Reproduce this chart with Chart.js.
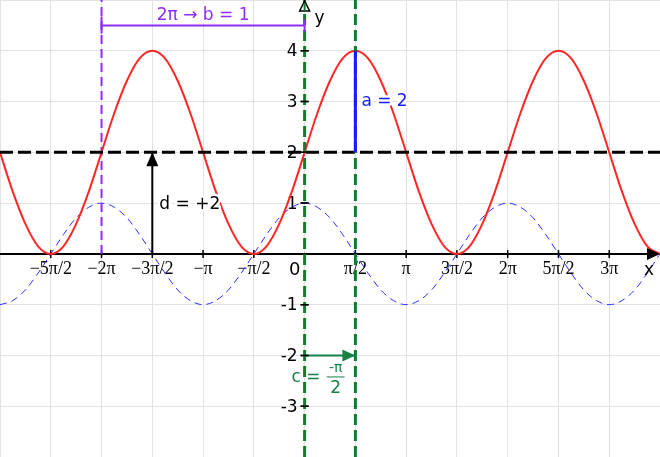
<!DOCTYPE html>
<html>
<head>
<meta charset="utf-8">
<script src="https://cdn.jsdelivr.net/npm/chart.js@4/dist/chart.umd.min.js"></script>
<style>
  html, body { margin: 0; padding: 0; background: #fff; }
  #wrap { width: 660px; height: 457px; position: relative; }
</style>
</head>
<body>
<div id="wrap"><canvas id="c"></canvas></div>
<script>
// x in units of π
const xValues = [-3, -2.875, -2.75, -2.625, -2.5, -2.375, -2.25, -2.125,
  -2, -1.875, -1.75, -1.625, -1.5, -1.375, -1.25, -1.125,
  -1, -0.875, -0.75, -0.625, -0.5, -0.375, -0.25, -0.125,
  0, 0.125, 0.25, 0.375, 0.5, 0.625, 0.75, 0.875,
  1, 1.125, 1.25, 1.375, 1.5, 1.625, 1.75, 1.875,
  2, 2.125, 2.25, 2.375, 2.5, 2.625, 2.75, 2.875,
  3, 3.125, 3.25, 3.375, 3.5];
const redValues = [2, 1.23, 0.59, 0.15, 0, 0.15, 0.59, 1.23,
  2, 2.77, 3.41, 3.85, 4, 3.85, 3.41, 2.77,
  2, 1.23, 0.59, 0.15, 0, 0.15, 0.59, 1.23,
  2, 2.77, 3.41, 3.85, 4, 3.85, 3.41, 2.77,
  2, 1.23, 0.59, 0.15, 0, 0.15, 0.59, 1.23,
  2, 2.77, 3.41, 3.85, 4, 3.85, 3.41, 2.77,
  2, 1.23, 0.59, 0.15, 0];
const blueValues = [-1, -0.92, -0.71, -0.38, 0, 0.38, 0.71, 0.92,
  1, 0.92, 0.71, 0.38, 0, -0.38, -0.71, -0.92,
  -1, -0.92, -0.71, -0.38, 0, 0.38, 0.71, 0.92,
  1, 0.92, 0.71, 0.38, 0, -0.38, -0.71, -0.92,
  -1, -0.92, -0.71, -0.38, 0, 0.38, 0.71, 0.92,
  1, 0.92, 0.71, 0.38, 0, -0.38, -0.71, -0.92,
  -1, -0.92, -0.71, -0.38, 0];

const xGridValues = [-3, -2.5, -2, -1.5, -1, -0.5, 0, 0.5, 1, 1.5, 2, 2.5, 3, 3.5];
const xTickValues = [-2.5, -2, -1.5, -1, -0.5, 0.5, 1, 1.5, 2, 2.5, 3];
const xTickLabels = ['\u22125\u03c0/2', '\u22122\u03c0', '\u22123\u03c0/2', '\u2212\u03c0', '\u2212\u03c0/2',
  '\u03c0/2', '\u03c0', '3\u03c0/2', '2\u03c0', '5\u03c0/2', '3\u03c0'];
const yTickValues = [-3, -2, -1, 1, 2, 3, 4];
const yTickLabels = ['-3', '-2', '-1', '1', '2', '3', '4'];

// reference marks
const midlineX = [-3, 3.5],   midlineY = [2, 2];
const periodLineX = [-2, -2], periodLineY = [0, 5];
const phase0X = [0, 0],       phase0Y = [-4, 5];
const phase1X = [0.5, 0.5],   phase1Y = [-4, 5];
const ampX = [0.5, 0.5],      ampY = [2, 4];
const dArrowX = [-1.5, -1.5], dArrowY = [0, 2];
const cArrowX = [0, 0.5],     cArrowY = [-2, -2];
const bLineX = [-2, 0],       bLineY = [4.5, 4.5];

const pts = (xs, ys) => xs.map((x, i) => ({ x: x, y: ys[i] }));

const RED = 'rgb(255,38,38)';
const BLUE = 'rgb(45,45,255)';
const PURPLE = 'rgb(140,45,250)';
const GREEN = 'rgb(20,122,45)';
const GREEN_T = 'rgb(25,128,70)';
const ABLUE = 'rgb(25,25,255)';

function ds(data, color, width, dash, order, extra) {
  return Object.assign({
    data: data, borderColor: color, borderWidth: width, borderDash: dash || [],
    pointRadius: 0, fill: false, order: order, tension: 0
  }, extra || {});
}

const axesPlugin = {
  id: 'axesPlugin',
  beforeDatasetsDraw(chart) {
    const ctx = chart.ctx, xs = chart.scales.x, ys = chart.scales.y;
    const x0 = xs.getPixelForValue(0), y0 = ys.getPixelForValue(0);
    ctx.save();
    ctx.strokeStyle = '#000';
    ctx.lineWidth = 2;
    ctx.beginPath();
    ctx.moveTo(xs.left, y0); ctx.lineTo(xs.right - 6, y0);
    ctx.stroke();
    ctx.lineWidth = 1.5;
    ctx.beginPath();
    xTickValues.forEach(v => {
      const px = xs.getPixelForValue(v);
      ctx.moveTo(px, y0 - 4); ctx.lineTo(px, y0 + 4);
    });
    yTickValues.forEach(v => {
      const py = ys.getPixelForValue(v);
      ctx.moveTo(x0 - 4, py); ctx.lineTo(x0 + 4, py);
    });
    ctx.stroke();
    ctx.fillStyle = '#000';
    ctx.font = '18px "Liberation Serif"';
    ctx.textAlign = 'center'; ctx.textBaseline = 'middle';
    xTickValues.forEach((v, i) => {
      ctx.fillText(xTickLabels[i], xs.getPixelForValue(v), y0 + 15);
    });
    ctx.font = '17px "DejaVu Sans"';
    ctx.textAlign = 'right';
    yTickValues.forEach((v, i) => {
      ctx.fillText(yTickLabels[i], x0 - 7, ys.getPixelForValue(v) + 1);
    });
    ctx.textAlign = 'center';
    ctx.font = '18px "DejaVu Sans"';
    ctx.fillText('0', x0 - 10, y0 + 16);
    ctx.restore();
  },
  afterDatasetsDraw(chart) {
    const ctx = chart.ctx, xs = chart.scales.x, ys = chart.scales.y;
    const X = v => xs.getPixelForValue(v), Y = v => ys.getPixelForValue(v);
    const x0 = X(0), y0 = Y(0);
    ctx.save();
    // y tick marks on top of the green dashed line
    ctx.strokeStyle = '#000'; ctx.lineWidth = 1.5;
    ctx.beginPath();
    yTickValues.forEach(v => {
      const py = Y(v);
      ctx.moveTo(x0 - 4, py); ctx.lineTo(x0 + 4, py);
    });
    ctx.stroke();
    // x axis arrow
    ctx.fillStyle = '#000';
    ctx.beginPath();
    ctx.moveTo(xs.right, y0); ctx.lineTo(xs.right - 13, y0 - 6); ctx.lineTo(xs.right - 13, y0 + 6);
    ctx.closePath(); ctx.fill();
    // y axis arrow (open)
    ctx.fillStyle = '#fff'; ctx.strokeStyle = '#000'; ctx.lineWidth = 1.5;
    ctx.beginPath();
    ctx.moveTo(x0, ys.top + 1); ctx.lineTo(x0 - 5, ys.top + 11); ctx.lineTo(x0 + 5, ys.top + 11);
    ctx.closePath(); ctx.fill(); ctx.stroke();
    ctx.strokeStyle = GREEN; ctx.lineWidth = 2;
    ctx.beginPath(); ctx.moveTo(x0, ys.top + 3); ctx.lineTo(x0, ys.top + 11); ctx.stroke();

    // d arrow head
    ctx.fillStyle = '#000';
    const dx = X(dArrowX[1]), dy = Y(dArrowY[1]);
    ctx.beginPath();
    ctx.moveTo(dx, dy); ctx.lineTo(dx - 6, dy + 14); ctx.lineTo(dx + 6, dy + 14);
    ctx.closePath(); ctx.fill();
    // c arrow head
    ctx.fillStyle = GREEN_T;
    const cx = X(cArrowX[1]), cy = Y(cArrowY[1]);
    ctx.beginPath();
    ctx.moveTo(cx, cy); ctx.lineTo(cx - 13, cy - 6); ctx.lineTo(cx - 13, cy + 6);
    ctx.closePath(); ctx.fill();
    // b line end ticks
    ctx.strokeStyle = PURPLE; ctx.lineWidth = 2;
    ctx.beginPath();
    ctx.moveTo(X(bLineX[0]), Y(bLineY[0]) - 9); ctx.lineTo(X(bLineX[0]), Y(bLineY[0]) + 8);
    ctx.moveTo(X(bLineX[1]), Y(bLineY[1]) - 6); ctx.lineTo(X(bLineX[1]), Y(bLineY[1]) + 6);
    ctx.stroke();

    function label(text, x, y, color, align, font) {
      ctx.font = font || '17px "DejaVu Sans"';
      ctx.textAlign = align || 'left'; ctx.textBaseline = 'middle';
      ctx.lineJoin = 'round';
      ctx.strokeStyle = '#fff'; ctx.lineWidth = 5;
      ctx.strokeText(text, x, y);
      ctx.fillStyle = color; ctx.fillText(text, x, y);
    }
    label('2\u03c0 \u2192 b = 1', (X(bLineX[0]) + X(bLineX[1])) / 2, 16, PURPLE, 'center');
    label('a = 2', X(ampX[0]) + 6, Y(3), ABLUE, 'left');
    label('d = +2', X(dArrowX[0]) + 7, Y(1) + 1, '#000', 'left');
    // c = -π/2
    ctx.font = '17px "DejaVu Sans"';
    ctx.textAlign = 'left'; ctx.textBaseline = 'middle';
    ctx.fillStyle = GREEN_T;
    ctx.fillText('c =', x0 - 13, Y(-2) + 22);
    const fx = x0 + 31;
    ctx.textAlign = 'center';
    ctx.font = '14px "DejaVu Sans"';
    ctx.fillText('-\u03c0', fx, Y(-2) + 13);
    ctx.font = '17px "DejaVu Sans"';
    ctx.fillText('2', fx, Y(-2) + 33);
    ctx.strokeStyle = GREEN_T; ctx.lineWidth = 1;
    ctx.beginPath(); ctx.moveTo(fx - 9, Y(-2) + 21.5); ctx.lineTo(fx + 9, Y(-2) + 21.5); ctx.stroke();
    // axis names
    ctx.fillStyle = '#000';
    ctx.font = '17px "DejaVu Sans"';
    ctx.textAlign = 'center';
    ctx.fillText('y', x0 + 15, 19);
    ctx.fillText('x', xs.right - 11, y0 + 17);
    ctx.restore();
  }
};

new Chart(document.getElementById('c'), {
  type: 'line',
  data: {
    datasets: [
      ds(pts(xValues, blueValues), BLUE, 1, [7, 5], 10, { cubicInterpolationMode: 'monotone' }),
      ds(pts(periodLineX, periodLineY), PURPLE, 2, [9, 5], 9),
      ds(pts(xValues, redValues), RED, 2, [], 8, { cubicInterpolationMode: 'monotone' }),
      ds(pts(midlineX, midlineY), '#000', 3, [13, 5], 7),
      ds(pts(phase0X, phase0Y), GREEN, 3, [11, 5], 6),
      ds(pts(phase1X, phase1Y), GREEN, 3, [11, 5], 5),
      ds(pts(ampX, ampY), ABLUE, 3, [], 4),
      ds(pts(dArrowX, dArrowY), '#000', 2, [], 3),
      ds(pts(cArrowX, cArrowY), GREEN_T, 2, [], 3),
      ds(pts(bLineX, bLineY), PURPLE, 2, [], 3)
    ]
  },
  options: {
    responsive: true,
    maintainAspectRatio: false,
    animation: false,
    events: [],
    layout: { padding: 0 },
    plugins: { legend: { display: false }, tooltip: { enabled: false } },
    scales: {
      x: {
        type: 'linear', min: -3, max: 3.5,
        afterBuildTicks: (s) => { s.ticks = xGridValues.map(v => ({ value: v })); },
        ticks: { display: false },
        border: { display: false },
        grid: { color: 'rgb(226,226,226)', drawTicks: false, lineWidth: 1 }
      },
      y: {
        type: 'linear', min: -4, max: 5,
        ticks: { display: false, stepSize: 1 },
        border: { display: false },
        grid: { color: 'rgb(226,226,226)', drawTicks: false, lineWidth: 1 }
      }
    }
  },
  plugins: [axesPlugin]
});
</script>
</body>
</html>
